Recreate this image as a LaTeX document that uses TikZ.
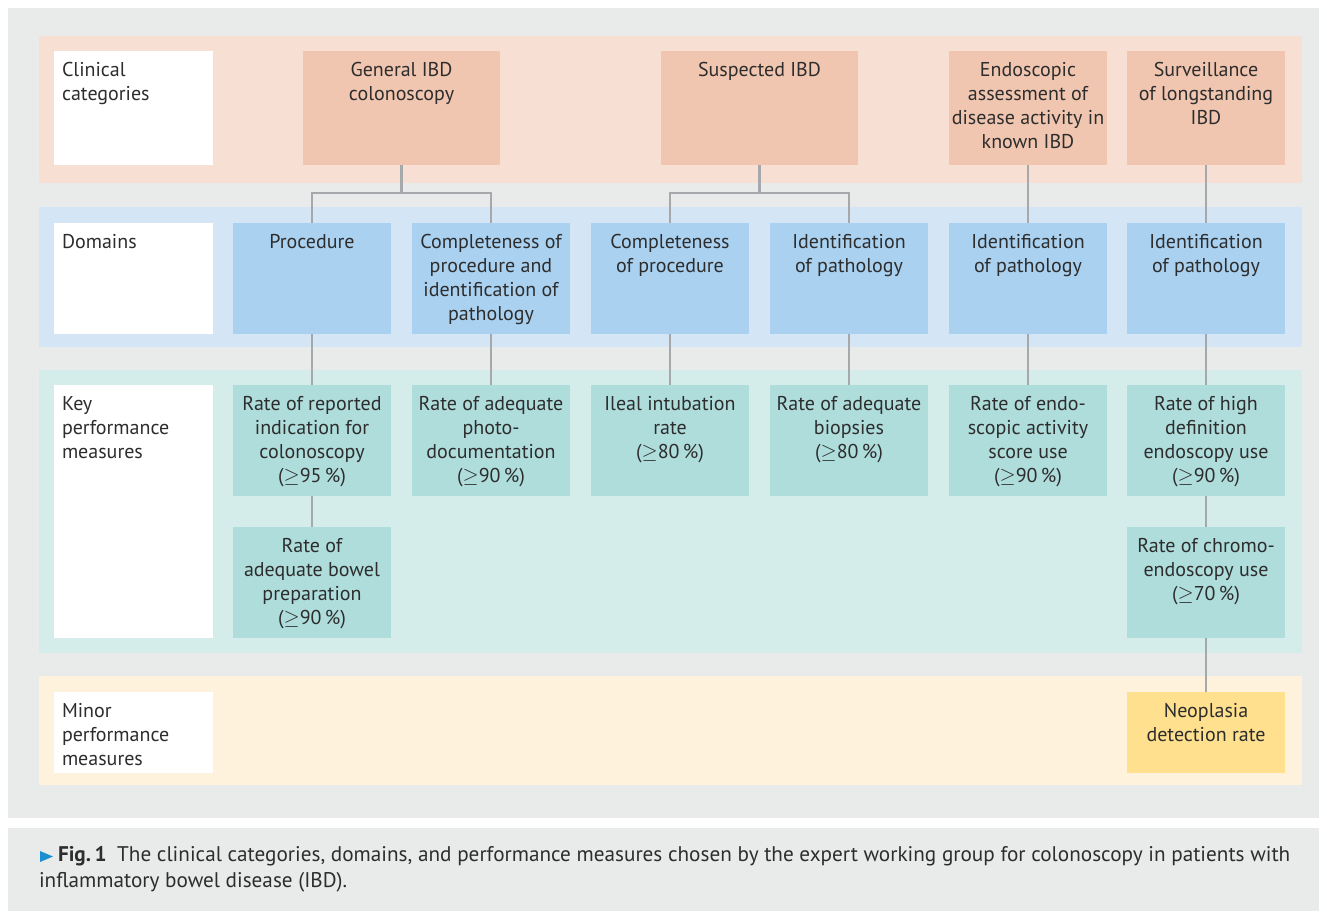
\documentclass[tikz,border=0pt]{standalone}
\usepackage{fontspec}
\setmainfont{PT Sans}
\usetikzlibrary{positioning}
\definecolor{framegray}{RGB}{233,235,234}
\definecolor{ink}{RGB}{45,45,45}
\definecolor{wire}{RGB}{166,168,171}
\definecolor{clinband}{RGB}{248,223,211}
\definecolor{clinfill}{RGB}{241,198,176}
\definecolor{domband}{RGB}{212,230,245}
\definecolor{domfill}{RGB}{170,209,240}
\definecolor{kpmband}{RGB}{212,236,234}
\definecolor{kpmfill}{RGB}{175,221,220}
\definecolor{minband}{RGB}{254,242,221}
\definecolor{minfill}{RGB}{254,224,143}
\definecolor{figblue}{RGB}{28,143,208}
\newcommand\bodyfont{\fontsize{20}{24}\selectfont}
% box of fixed size, text starting at the top
\newcommand\cellbox[3]{\parbox[c][#2][t]{#1}{\centering\rule{0pt}{25pt}#3}}
\newcommand\sidebox[2]{\parbox[c][#1][t]{159pt}{\raggedright\leftskip=8pt\rule{0pt}{25pt}#2}}
\tikzset{
  cell/.style={inner sep=0pt,outer sep=0pt,anchor=north west,text=ink,font=\bodyfont},
  link/.style={draw=wire,line width=2.6pt},
}

\begin{document}
\begin{tikzpicture}[x=1pt,y=-1pt]
\useasboundingbox (0,0) rectangle (1327,913);
% backgrounds
\fill[framegray] (8,8) rectangle (1319,818);
\fill[framegray] (8,828) rectangle (1319,911);
\fill[clinband] (39,36) rectangle (1302,183);
\fill[domband] (39,207) rectangle (1302,347);
\fill[kpmband] (39,370) rectangle (1302,653);
\fill[minband] (39,676) rectangle (1302,785);

% row headings
\node[cell,fill=white] (clinlab) at (54,51) {\sidebox{114pt}{Clinical\\categories}};
\node[cell,fill=white] (domlab) at (54,223) {\sidebox{111pt}{Domains}};
\node[cell,fill=white] (kpmlab) at (54,385) {\sidebox{253pt}{Key\\performance\\measures}};
\node[cell,fill=white] (minlab) at (54,692) {\sidebox{81pt}{Minor\\performance\\measures}};

% clinical categories
\node[cell,fill=clinfill] (gen) at (303,51) {\cellbox{197pt}{114pt}{General IBD\\colonoscopy}};
\node[cell,fill=clinfill] (susp) at (661,51) {\cellbox{197pt}{114pt}{Suspected IBD}};
\node[cell,fill=clinfill] (endo) at (949,51) {\cellbox{158pt}{114pt}{Endoscopic\\assessment of\\disease activity in\\known IBD}};
\node[cell,fill=clinfill] (surv) at (1127,51) {\cellbox{158pt}{114pt}{Surveillance\\of longstanding\\IBD}};

% domains
\node[cell,fill=domfill] (proc) at (233,223) {\cellbox{158pt}{111pt}{Procedure}};
\node[cell,fill=domfill] (comp) at (412,223) {\cellbox{158pt}{111pt}{Completeness of\\procedure and\\identification of\\pathology}};
\node[cell,fill=domfill] (compb) at (591,223) {\cellbox{158pt}{111pt}{Completeness\\of procedure}};
\node[cell,fill=domfill] (ident) at (770,223) {\cellbox{158pt}{111pt}{Identification\\of pathology}};
\node[cell,fill=domfill] (identb) at (949,223) {\cellbox{158pt}{111pt}{Identification\\of pathology}};
\node[cell,fill=domfill] (identc) at (1127,223) {\cellbox{158pt}{111pt}{Identification\\of pathology}};

% key performance measures
\node[cell,fill=kpmfill] (indic) at (233,385) {\cellbox{158pt}{111pt}{Rate of reported\\indication for\\colonoscopy\\(\(\geq\)95\,\%)}};
\node[cell,fill=kpmfill] (bowel) at (233,527) {\cellbox{158pt}{111pt}{Rate of\\adequate bowel\\preparation\\(\(\geq\)90\,\%)}};
\node[cell,fill=kpmfill] (photo) at (412,385) {\cellbox{158pt}{111pt}{Rate of adequate\\photo-\\documentation\\(\(\geq\)90\,\%)}};
\node[cell,fill=kpmfill] (ileal) at (591,385) {\cellbox{158pt}{111pt}{Ileal intubation\\rate\\(\(\geq\)80\,\%)}};
\node[cell,fill=kpmfill] (biop) at (770,385) {\cellbox{158pt}{111pt}{Rate of adequate\\biopsies\\(\(\geq\)80\,\%)}};
\node[cell,fill=kpmfill] (score) at (949,385) {\cellbox{158pt}{111pt}{Rate of endo-\\scopic activity\\score use\\(\(\geq\)90\,\%)}};
\node[cell,fill=kpmfill] (hdef) at (1127,385) {\cellbox{158pt}{111pt}{Rate of high\\definition\\endoscopy use\\(\(\geq\)90\,\%)}};
\node[cell,fill=kpmfill] (chromo) at (1127,527) {\cellbox{158pt}{111pt}{Rate of chromo-\\endoscopy use\\(\(\geq\)70\,\%)}};

% minor performance measure
\node[cell,fill=minfill] (neo) at (1127,692) {\cellbox{158pt}{81pt}{Neoplasia\\detection rate}};

% connectors
\coordinate (genj) at (gen.south |- 0,193);
\coordinate (suspj) at (susp.south |- 0,193);
\draw[link] (gen.south) -- (genj);
\draw[link] (proc.north) |- (genj) -| (comp.north);
\draw[link] (susp.south) -- (suspj);
\draw[link] (compb.north) |- (suspj) -| (ident.north);
\draw[link] (endo) -- (identb);
\draw[link] (surv) -- (identc);
\draw[link] (proc) -- (indic);
\draw[link] (indic) -- (bowel);
\draw[link] (comp) -- (photo);
\draw[link] (compb) -- (ileal);
\draw[link] (ident) -- (biop);
\draw[link] (identb) -- (score);
\draw[link] (identc) -- (hdef);
\draw[link] (hdef) -- (chromo);
\draw[link] (chromo) -- (neo);

% caption
\fill[figblue] (40,851) -- (53,856.5) -- (40,862) -- cycle;
\node[cell,text=ink] (cap) at (39,846.5) {\parbox[t]{1285pt}{\raggedright\fontsize{21.2}{26}\selectfont
  \hspace*{19pt}\textbf{Fig.\,1}\enspace The clinical categories, domains, and performance measures chosen by the expert working group for colonoscopy in patients with\\
  inflammatory bowel disease (IBD).}};
\end{tikzpicture}
\end{document}
